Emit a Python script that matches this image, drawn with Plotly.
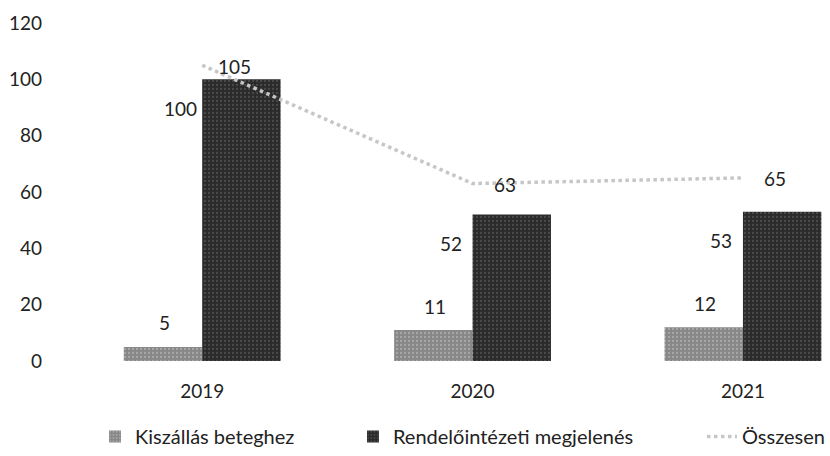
import plotly.graph_objects as go

years = ["2019", "2020", "2021"]
kiszallas = [5, 11, 12]
rendelo = [100, 52, 53]
osszesen = [105, 63, 65]
y_ticks = [0, 20, 40, 60, 80, 100, 120]

FONT = "Lato, 'Open Sans', sans-serif"
TXT = "#222222"

fig = go.Figure()
fig.add_trace(go.Bar(
    name="Kiszállás beteghez", x=years, y=kiszallas, legend="legend",
    marker=dict(color="#878787", line=dict(width=0),
                pattern=dict(shape=".", fgcolor="#c8c8c8", size=4, solidity=0.25)),
))
fig.add_trace(go.Bar(
    name="Rendelőintézeti megjelenés", x=years, y=rendelo, legend="legend2",
    marker=dict(color="#2a2a2a", line=dict(width=0),
                pattern=dict(shape=".", fgcolor="#6a6a6a", size=4, solidity=0.25)),
))
fig.add_trace(go.Scatter(
    name="Összesen", x=years, y=osszesen, mode="lines", legend="legend3",
    line=dict(color="#c6c6c6", width=3.5, dash="dot"),
))

ann = []
for i, v in enumerate(kiszallas):
    ann.append(dict(x=i, y=v, text=str(v), xshift=-38, yshift=24))
for i, v in enumerate(rendelo):
    ann.append(dict(x=i, y=v, text=str(v), xshift=-22, yshift=-29))
for i, v in enumerate(osszesen):
    ann.append(dict(x=i, y=v, text=str(v), xshift=32, yshift=-1))
for a in ann:
    a.update(showarrow=False, xref="x", yref="y",
             font=dict(size=19, color=TXT, family=FONT))

leg_common = dict(orientation="h", yanchor="middle", y=-0.2235, xanchor="left",
                  font=dict(size=20, color=TXT, family=FONT),
                  bgcolor="rgba(0,0,0,0)", borderwidth=0)

fig.update_layout(
    width=830, height=456,
    margin=dict(l=67, r=0, t=23, b=92),
    paper_bgcolor="white", plot_bgcolor="white",
    barmode="group", bargap=0.42, bargroupgap=0,
    font=dict(family=FONT, size=19, color=TXT),
    annotations=ann,
    showlegend=True,
    legend=dict(x=0.0367, **leg_common),
    legend2=dict(x=0.3748, **leg_common),
    legend3=dict(x=0.8322, **leg_common),
    xaxis=dict(type="category", range=[-0.5, 2.322], showgrid=False, showline=False,
               ticks="", ticklabelstandoff=17, tickfont=dict(size=19), automargin=False),
    yaxis=dict(range=[0, 120], tickvals=y_ticks, showgrid=False, showline=False,
               zeroline=False, ticks="", ticklabelstandoff=24, tickfont=dict(size=19),
               automargin=False),
)

fig.write_html("out.html", config={"displayModeBar": False},
               post_script="document.body.style.margin='0';")
